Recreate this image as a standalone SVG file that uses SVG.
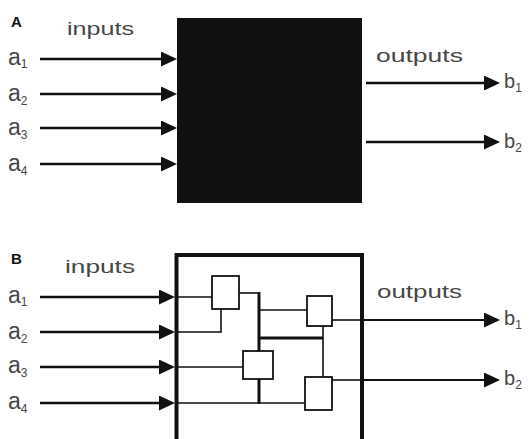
<svg xmlns="http://www.w3.org/2000/svg" width="530" height="439" viewBox="0 0 530 439">
  <defs>
    <marker id="head" markerUnits="userSpaceOnUse" markerWidth="17" markerHeight="16" refX="4" refY="7.5" orient="auto">
      <path d="M0,0 L16,7.5 L0,15 z" fill="#111"/>
    </marker>
    <style>
      .lbl { font-family: "Liberation Sans", Arial, sans-serif; fill: #474747; }
      .var { font-size: 23px; }
      .vb { font-size: 20px; }
      .sub { font-size: 12px; }
      .word { font-size: 19px; }
      .panel { font-family: "Liberation Sans", Arial, sans-serif; font-weight: bold; font-size: 15px; fill: #111; }
      .arrow { stroke: #111; stroke-width: 2.4; fill: none; marker-end: url(#head); }
      .arrow-thin { stroke: #111; stroke-width: 1.8; fill: none; marker-end: url(#head); }
      .wire { stroke: #111; stroke-width: 1.6; fill: none; }
      .bus { stroke: #111; stroke-width: 3; fill: none; }
      .gate { fill: #fff; stroke: #111; stroke-width: 1.8; }
    </style>
  </defs>

  <!-- Panel A: the system as an opaque box -->
  <g id="panel-a">
    <text class="panel" x="11" y="27">A</text>
    <text class="lbl word" x="67" y="35" textLength="67" lengthAdjust="spacingAndGlyphs">inputs</text>
    <text class="lbl word" x="376" y="62" textLength="87" lengthAdjust="spacingAndGlyphs">outputs</text>
    <g id="a-inputs-labels">
      <text class="lbl" x="8" y="65"><tspan class="var">a</tspan><tspan class="sub" dy="3">1</tspan></text>
      <text class="lbl" x="8" y="101"><tspan class="var">a</tspan><tspan class="sub" dy="4">2</tspan></text>
      <text class="lbl" x="8" y="135"><tspan class="var">a</tspan><tspan class="sub" dy="4">3</tspan></text>
      <text class="lbl" x="8" y="171"><tspan class="var">a</tspan><tspan class="sub" dy="4">4</tspan></text>
    </g>
    <g id="a-output-labels">
      <text class="lbl" x="504" y="88"><tspan class="vb">b</tspan><tspan class="sub" dy="4">1</tspan></text>
      <text class="lbl" x="504" y="148"><tspan class="vb">b</tspan><tspan class="sub" dy="4">2</tspan></text>
    </g>
    <g id="black-box">
      <rect x="177" y="18" width="185" height="185" fill="#111"/>
    </g>
    <g id="a-connectors">
      <line class="arrow" x1="40" y1="59" x2="165" y2="59"/>
      <line class="arrow" x1="40" y1="94" x2="165" y2="94"/>
      <line class="arrow" x1="40" y1="128" x2="165" y2="128"/>
      <line class="arrow" x1="40" y1="164" x2="165" y2="164"/>
      <line class="arrow" x1="366" y1="83" x2="488" y2="83"/>
      <line class="arrow" x1="366" y1="142" x2="488" y2="142"/>
    </g>
  </g>

  <!-- Panel B: the same system opened up into a network of parts -->
  <g id="panel-b">
    <text class="panel" x="11" y="264">B</text>
    <text class="lbl word" x="65" y="273" textLength="70" lengthAdjust="spacingAndGlyphs">inputs</text>
    <text class="lbl word" x="377" y="298" textLength="85" lengthAdjust="spacingAndGlyphs">outputs</text>
    <g id="b-inputs-labels">
      <text class="lbl" x="8" y="303"><tspan class="var">a</tspan><tspan class="sub" dy="3">1</tspan></text>
      <text class="lbl" x="8" y="339"><tspan class="var">a</tspan><tspan class="sub" dy="4">2</tspan></text>
      <text class="lbl" x="8" y="373"><tspan class="var">a</tspan><tspan class="sub" dy="4">3</tspan></text>
      <text class="lbl" x="8" y="409"><tspan class="var">a</tspan><tspan class="sub" dy="4">4</tspan></text>
    </g>
    <g id="b-output-labels">
      <text class="lbl" x="504" y="325"><tspan class="vb">b</tspan><tspan class="sub" dy="4">1</tspan></text>
      <text class="lbl" x="504" y="385"><tspan class="vb">b</tspan><tspan class="sub" dy="4">2</tspan></text>
    </g>

    <g id="b-connectors">
      <!-- external inputs and outputs -->
      <line class="arrow" x1="40" y1="297" x2="163" y2="297"/>
      <line class="arrow" x1="40" y1="332" x2="163" y2="332"/>
      <line class="arrow" x1="40" y1="367" x2="163" y2="367"/>
      <line class="arrow" x1="40" y1="403" x2="163" y2="403"/>
      <line class="arrow-thin" x1="364" y1="320" x2="488" y2="320"/>
      <line class="arrow-thin" x1="364" y1="380" x2="488" y2="380"/>
      <!-- internal wiring -->
      <polyline class="wire" points="176,297 212,297"/>
      <polyline class="wire" points="176,332 221,332 221,309"/>
      <polyline class="wire" points="239,293 259,293"/>
      <polyline class="bus" points="259,292 259,404"/>
      <polyline class="wire" points="259,310 307,310"/>
      <polyline class="bus" points="259,338 323,338"/>
      <polyline class="wire" points="323,326 323,377"/>
      <polyline class="wire" points="176,367 243,367"/>
      <polyline class="wire" points="176,403 305,403"/>
      <polyline class="wire" points="332,320 362,320"/>
      <polyline class="wire" points="332,380 362,380"/>
    </g>

    <g id="gate-1"><rect class="gate" x="212" y="276" width="27" height="33"/></g>
    <g id="gate-2"><rect class="gate" x="307" y="296" width="25" height="30"/></g>
    <g id="gate-3"><rect class="gate" x="243" y="351" width="30" height="28"/></g>
    <g id="gate-4"><rect class="gate" x="305" y="377" width="27" height="33"/></g>

    <g id="system-boundary">
      <rect x="176.5" y="255" width="185.5" height="200" fill="none" stroke="#111" stroke-width="4"/>
    </g>
  </g>
</svg>
